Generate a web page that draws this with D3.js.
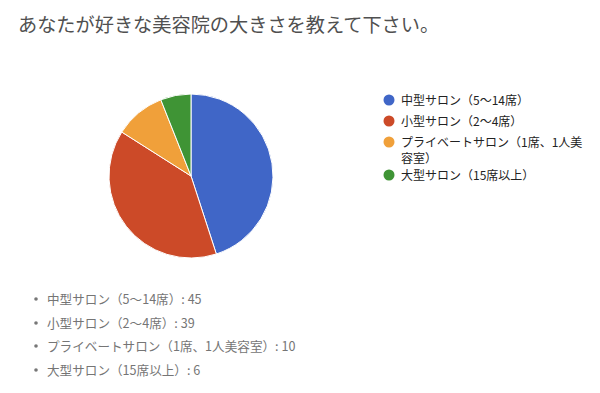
<!DOCTYPE html>
<html>
<head>
<meta charset="utf-8">
<script src="https://cdn.jsdelivr.net/npm/d3@7"></script>
<style>
  body { margin: 0; background: #fff; }
  svg { display: block; font-family: "Noto Sans CJK JP", "Noto Sans", sans-serif; }
</style>
</head>
<body>
<div id="chart"></div>
<script>
var title = "あなたが好きな美容院の大きさを教えて下さい。";
var labels = ["中型サロン（5〜14席）", "小型サロン（2〜4席）", "プライベートサロン（1席、1人美容室）", "大型サロン（15席以上）"];
var legendLines = [["中型サロン（5〜14席）"], ["小型サロン（2〜4席）"], ["プライベートサロン（1席、1人美", "容室）"], ["大型サロン（15席以上）"]];
var values = [45, 39, 10, 6];
var colors = ["#4066c7", "#cc4a28", "#f0a03a", "#3f9435"];

var width = 600, height = 393;
var svg = d3.select("#chart").append("svg")
  .attr("width", width).attr("height", height);

svg.append("text")
  .attr("x", 18).attr("y", 32)
  .attr("font-size", 19.2).attr("fill", "#505050")
  .text(title);

// pie
var pie = d3.pie().sort(null).value(function(d) { return d; });
var arc = d3.arc().innerRadius(0).outerRadius(82);
var g = svg.append("g").attr("transform", "translate(191,176)");
g.selectAll("path")
  .data(pie(values))
  .enter().append("path")
    .attr("d", arc)
    .attr("fill", function(d, i) { return colors[i]; })
    .attr("stroke", "#fff")
    .attr("stroke-width", 1);

// legend
var legY = [100, 121, 142, 175];
var leg = svg.append("g");
legendLines.forEach(function(lines, i) {
  leg.append("circle")
    .attr("cx", 389).attr("cy", legY[i]).attr("r", 5.5)
    .attr("fill", colors[i]);
  lines.forEach(function(t, j) {
    leg.append("text")
      .attr("x", 401).attr("y", legY[i] + 4.5 + j * 16)
      .attr("font-size", 12).attr("fill", "#222")
      .text(t);
  });
});

// list below
var listY = [299, 323, 346, 370];
var list = svg.append("g");
labels.forEach(function(t, i) {
  list.append("circle")
    .attr("cx", 36).attr("cy", listY[i]).attr("r", 1.8)
    .attr("fill", "#777");
  list.append("text")
    .attr("x", 47).attr("y", listY[i] + 5)
    .attr("font-size", 12.6).attr("fill", "#757575")
    .text(t + ": " + values[i]);
});
</script>
</body>
</html>
